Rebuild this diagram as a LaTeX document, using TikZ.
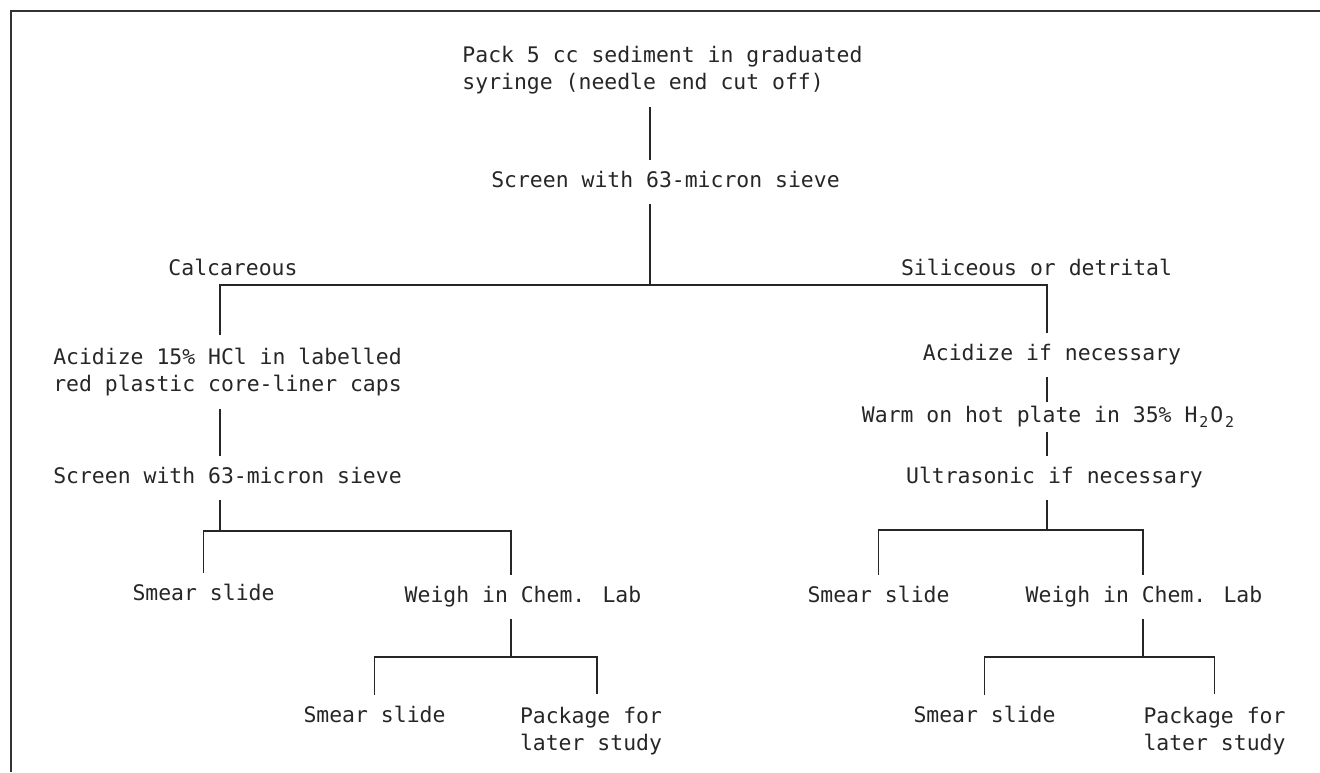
\documentclass[tikz,border=0pt]{standalone}
\usepackage{fontspec}
\newfontfamily\typefont{DejaVu Sans Mono}
\newcommand{\subs}[1]{\raisebox{-0.45ex}{\makebox[7.3pt]{\fontsize{8.5}{8.5}\selectfont #1}}}

\begin{document}
\begin{tikzpicture}[
			x=0.02cm,
			y=-0.02cm,
			every node/.style={
				inner xsep=0pt,
				inner ysep=7pt,
				text=black!85,
				font=\typefont\fontsize{12.2}{15.4}\selectfont
			},
			oneline/.style={text height=8.5pt, text depth=2pt},
			twoline/.style={align=left},
			tight/.style={inner ysep=3pt},
			link/.style={draw=black!85, line width=0.9pt}
			]
			
			\useasboundingbox (0,0) rectangle (1320,772);
			
			%%%%%%%%%%%%%%%%%%%%%%%%%%%%%%%%%%%%%%%%%%%%%%%%%%%%%%
			% Frame
			%%%%%%%%%%%%%%%%%%%%%%%%%%%%%%%%%%%%%%%%%%%%%%%%%%%%%%
			
			\draw[black!80, line width=1.4pt]
			(11,772) -- (11,11) -- (1320,11);
			
			%%%%%%%%%%%%%%%%%%%%%%%%%%%%%%%%%%%%%%%%%%%%%%%%%%%%%%
			% Nodes
			%%%%%%%%%%%%%%%%%%%%%%%%%%%%%%%%%%%%%%%%%%%%%%%%%%%%%%
			
			\node (pack) [twoline] at (662.5,70)
			{Pack 5 cc sediment in graduated\\syringe (needle end cut off)};
			
			\node (screen) [oneline] at (665.5,182)
			{Screen with 63-micron sieve};
			
			\node (calc) [oneline] at (233,270) {Calcareous};
			
			\node (silic) [oneline] at (1036.5,270) {Siliceous or detrital};
			
			% calcareous side
			\node (acid) [twoline] at (227.5,372)
			{Acidize 15\% HCl in labelled\\red plastic core-liner caps};
			
			\node (lscreen) [oneline] at (227.5,478)
			{Screen with 63-micron sieve};
			
			\node (lsmear) [oneline] at (203.5,595) {Smear slide};
			
			\node (lweigh) [oneline] at (523,597) {Weigh in Chem. Lab};
			
			\node (lsmeartwo) [oneline] at (374.5,717) {Smear slide};
			
			\node (lpackage) [twoline] at (591,731)
			{Package for\\later study};
			
			% siliceous side
			\node (racid) [oneline] at (1052,355) {Acidize if necessary};
			
			\node (warm) [oneline, tight] at (1049,417)
			{Warm on hot plate in 35\% H\subs{2}O\subs{2}};
			
			\node (ultra) [oneline] at (1054.5,478) {Ultrasonic if necessary};
			
			\node (rsmear) [oneline] at (878.5,597) {Smear slide};
			
			\node (rweigh) [oneline] at (1144,597) {Weigh in Chem. Lab};
			
			\node (rsmeartwo) [oneline] at (984.5,717) {Smear slide};
			
			\node (rpackage) [twoline] at (1214.5,731)
			{Package for\\later study};
			
			%%%%%%%%%%%%%%%%%%%%%%%%%%%%%%%%%%%%%%%%%%%%%%%%%%%%%%
			% Split points
			%%%%%%%%%%%%%%%%%%%%%%%%%%%%%%%%%%%%%%%%%%%%%%%%%%%%%%
			
			\coordinate (split) at (650,285);
			\coordinate (lsplit) at (220,531);
			\coordinate (rsplit) at (1047,530);
			\coordinate (lwsplit) at (511,657);
			\coordinate (rwsplit) at (1143,657);
			\coordinate (lpkline) at (597,657);
			
			%%%%%%%%%%%%%%%%%%%%%%%%%%%%%%%%%%%%%%%%%%%%%%%%%%%%%%
			% Main stem
			%%%%%%%%%%%%%%%%%%%%%%%%%%%%%%%%%%%%%%%%%%%%%%%%%%%%%%
			
			\draw[link]
			(pack.south -| split) -- (screen.north -| split);
			
			\draw[link]
			(screen.south -| split) -- (split);
			
			\draw[link]
			(acid.north -| lsplit) -- (lsplit |- split)
			-- (rsplit |- split) -- (racid.north -| rsplit);
			
			%%%%%%%%%%%%%%%%%%%%%%%%%%%%%%%%%%%%%%%%%%%%%%%%%%%%%%
			% Calcareous branch
			%%%%%%%%%%%%%%%%%%%%%%%%%%%%%%%%%%%%%%%%%%%%%%%%%%%%%%
			
			\draw[link]
			(acid.south -| lsplit) -- (lscreen.north -| lsplit);
			
			\draw[link]
			(lscreen.south -| lsplit) -- (lsplit);
			
			\draw[link]
			(lsmear.north) |- (lwsplit |- lsplit)
			-- (lweigh.north -| lwsplit);
			
			\draw[link]
			(lweigh.south -| lwsplit) -- (lwsplit);
			
			\draw[link]
			(lsmeartwo.north) |- (lpkline)
			-- (lpackage.north -| lpkline);
			
			%%%%%%%%%%%%%%%%%%%%%%%%%%%%%%%%%%%%%%%%%%%%%%%%%%%%%%
			% Siliceous branch
			%%%%%%%%%%%%%%%%%%%%%%%%%%%%%%%%%%%%%%%%%%%%%%%%%%%%%%
			
			\draw[link]
			(racid.south -| rsplit) -- (warm.north -| rsplit);
			
			\draw[link]
			(warm.south -| rsplit) -- (ultra.north -| rsplit);
			
			\draw[link]
			(ultra.south -| rsplit) -- (rsplit);
			
			\draw[link]
			(rsmear.north) |- (rwsplit |- rsplit)
			-- (rweigh.north -| rwsplit);
			
			\draw[link]
			(rweigh.south -| rwsplit) -- (rwsplit);
			
			\draw[link]
			(rsmeartwo.north) |- (rpackage.north |- rwsplit)
			-- (rpackage.north);
			
			%%%%%%%%%%%%%%%%%%%%%%%%%%%%%%%%%%%%%%%%%%%%%%%%%%%%%%
			
		\end{tikzpicture}
\end{document}
